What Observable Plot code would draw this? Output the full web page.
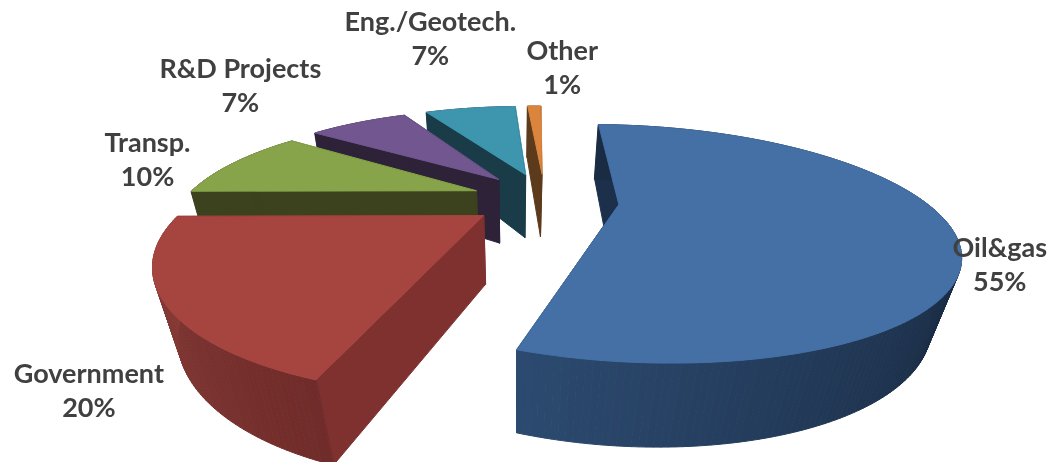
<!DOCTYPE html>
<html>
<head>
<meta charset="utf-8">
<script src="https://cdn.jsdelivr.net/npm/d3@7"></script>
<script src="https://cdn.jsdelivr.net/npm/@observablehq/plot@0.6"></script>
<style>
html,body{margin:0;padding:0;background:#fff;overflow:hidden}
svg{display:block;filter:blur(0.7px)}
</style>
</head>
<body>
<div id="chart"></div>
<script>
// Data: slice sizes; labels show them rounded
const categories = ["Oil&gas", "Government", "Transp.", "R&D Projects", "Eng./Geotech.", "Other"];
const shares = [55, 19.5, 10.3, 7.3, 6.9, 1];

// Styles, one entry per slice
const topColors = ["#4470a6", "#a64440", "#87a44a", "#71568f", "#3d96ae", "#db843d"];
const cutColors = ["#1c2f4b", "#7f3130", "#3b421d", "#2e2239", "#1a3c48", "#5c3a1c"];
const wallFrom  = ["#1a2c44", "#702c2a", "#3b421d", "#2e2239", "#1a3c48", "#5c3a1c"];
const wallTo    = ["#2c4a70", "#8c3f3a", "#3b421d", "#2e2239", "#1a3c48", "#5c3a1c"];
const radiusX   = [310, 296, 298, 300, 300, 300];
const radiusY   = [0.98, 1, 1, 1, 1, 1];
const labelDx   = [51, -74, -87, -118, -40, 28];
const labelDy   = [38, 89, -4, -38, -71, -40];

// Camera of the 3D pie: a pinhole projection of a tilted disc
const cam = {px: 513, horizon: -115, plane: 320, k: 0.341, depth: 0.0635, vanishY: 1333};
const pie = {startDeg: 1.5, cx: 32, cy: -0.06, explodeX: 75, explodeY: 0.262};

function project(X, Y, z) {
  const w = 1 - cam.k * Y;
  const h = z * cam.depth;
  const W = w + h;
  return {
    x: (cam.px * w + X + h * cam.px) / W,
    y: (cam.horizon * w + cam.plane + h * cam.vanishY) / W
  };
}

const total = d3.sum(shares);
const start = pie.startDeg * Math.PI / 180;
let cumulative = 0;
const slices = categories.map((name, i) => {
  const a0 = start + cumulative / total * 2 * Math.PI;
  cumulative += shares[i];
  const a1 = start + cumulative / total * 2 * Math.PI;
  const mid = (a0 + a1) / 2;
  return {
    i, name, share: Math.round(shares[i]), a0, a1, mid,
    X: pie.cx + pie.explodeX * Math.sin(mid),
    Y: pie.cy - pie.explodeY * Math.cos(mid)
  };
});
const rim = (s, a) => [s.X + radiusX[s.i] * Math.sin(a), s.Y - radiusY[s.i] * Math.cos(a)];

const polys = [];
let id = 0;
function addPoly(points, color) {
  id++;
  for (const p of points) polys.push({x: p.x, y: p.y, id, color});
}
const sweepAngles = (s, step) => {
  const n = Math.max(2, Math.ceil((s.a1 - s.a0) / step));
  return d3.range(n + 1).map(j => s.a0 + (s.a1 - s.a0) * j / n);
};

const drawOrder = [5, 4, 3, 2, 1, 0];
for (const i of drawOrder) {
  const s = slices[i];
  for (const a of [s.a0, s.a1]) {
    const [rx, ry] = rim(s, a);
    addPoly([project(s.X, s.Y, 0), project(rx, ry, 0), project(rx, ry, 1), project(s.X, s.Y, 1)], cutColors[i]);
  }
  const ramp = i === 0
    ? d3.scaleLinear().domain([0, 0.62, 1]).range([wallFrom[i], wallFrom[i], wallTo[i]])
    : d3.scaleLinear().domain([0, 1]).range([wallFrom[i], wallTo[i]]);
  const wall = sweepAngles(s, Math.PI / 180);
  for (let j = 0; j + 1 < wall.length; j++) {
    const [ax, ay] = rim(s, wall[j]);
    const [bx, by] = rim(s, wall[j + 1]);
    addPoly([project(ax, ay, 0), project(bx, by, 0), project(bx, by, 1), project(ax, ay, 1)], ramp(j / (wall.length - 1)));
  }
  addPoly([project(s.X, s.Y, 0), ...sweepAngles(s, Math.PI / 180).map(a => { const [x, y] = rim(s, a); return project(x, y, 0); })], topColors[i]);
}

const labels = slices.map((s, i) => {
  const [x, y] = rim(s, s.mid);
  const p = project(x, y, 0);
  return {x: p.x, y: p.y, dx: labelDx[i], dy: labelDy[i], text: `${s.name}\n${s.share}%`};
});

const plot = Plot.plot({
  width: 1050, height: 462,
  margin: 0,
  x: {domain: [0, 1050], axis: null},
  y: {domain: [462, 0], axis: null},
  color: {type: "identity"},
  marks: [
    Plot.line(polys, {x: "x", y: "y", z: "id", fill: "color", stroke: "color", strokeWidth: 1, strokeLinejoin: "round", curve: "linear-closed"}),
    ...labels.map(l => Plot.text([l], {
      x: "x", y: "y", text: "text", dx: l.dx, dy: l.dy,
      fontFamily: "Lato", fontWeight: 700, fontSize: 27, lineHeight: 1.26, fill: "#404040"
    }))
  ]
});
document.getElementById("chart").appendChild(plot);
</script>
</body>
</html>
